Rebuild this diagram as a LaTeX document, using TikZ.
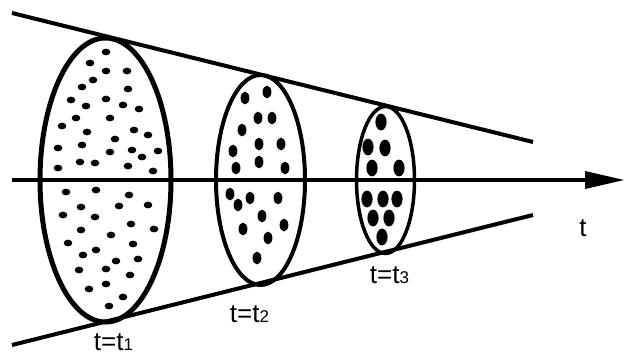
\documentclass[tikz,border=0pt]{standalone}
\usepackage{fontspec}
\setmainfont{Liberation Sans}
\newcommand{\sbs}[1]{{\fontsize{17}{17}\selectfont #1}}
\begin{document}
\begin{tikzpicture}[x=1pt,y=-1pt,
  coneline/.style={line width=4pt},
  axisline/.style={line width=4pt},
  lbl/.style={font=\fontsize{26}{26}\selectfont, anchor=base, inner sep=0pt},
]
\useasboundingbox (0,0) rectangle (628,356);
% cone lines
\coordinate (tl) at (12,13);
\coordinate (tr) at (533,142);
\coordinate (bl) at (12,345);
\coordinate (br) at (533,215);
\draw[coneline] (tl) -- (tr);
\draw[coneline] (bl) -- (br);
% axis
\coordinate (ax0) at (12,180);
\coordinate (ax1) at (588,180);
\draw[axisline] (ax0) -- (ax1);
\fill (585,171) -- (624,180) -- (585,189) -- cycle;
% ellipses
\draw[line width=5pt] (105.5,180) ellipse [x radius=65.5pt, y radius=142pt];
\draw[line width=4pt] (260.5,180) ellipse [x radius=44.5pt, y radius=105pt];
\draw[line width=3.5pt] (385.5,180) ellipse [x radius=29pt, y radius=73.5pt];
% dots ellipse 1
\foreach \x/\y in {106/52,90/63,106/71,127/71,93/80,82/87,128/89,71/100,106/99,86/106,123/105,139/109,76/118,110/118,62/126,87/132,134/130,148/135,115/139,82/145,58/148,110/152,132/150,142/157,158/151,80/162,95/163,58/168,128/166,153/171,
66/192,96/190,129/195,81/207,119/206,148/205,63/215,95/217,81/230,131/224,154/229,111/235,68/243,133/244,83/255,96/250,116/261,138/259,79/270,106/269,130/275,89/289,106/284,123/297,109/306}
  \fill (\x,\y) ellipse [x radius=4.3pt, y radius=3.4pt];
% dots ellipse 2
\foreach \x/\y in {245/98,267/92,258/118,272/118,242/130,259/144,281/144,233/151,259/162,236/168,285/168,230/194,238/205,250/198,278/198,262/216,243/229,284/225,268/238,257/258}
  \fill (\x,\y) ellipse [x radius=4.4pt, y radius=6.4pt];
% dots ellipse 3
\foreach \x/\y in {381/122,368/147,385/148,372/168,399/168,367/199,383/199,397/199,373/218,389/218,382/237}
  \fill (\x,\y) ellipse [x radius=5.6pt, y radius=8.4pt];
% labels
\node[lbl] (l1) at (113.5,350) {t=t\sbs{1}};
\node[lbl] (l2) at (249.5,322) {t=t\sbs{2}};
\node[lbl] (l3) at (389.5,283) {t=t\sbs{3}};
\node[lbl] (lt) at (583,236) {t};
\end{tikzpicture}
\end{document}
